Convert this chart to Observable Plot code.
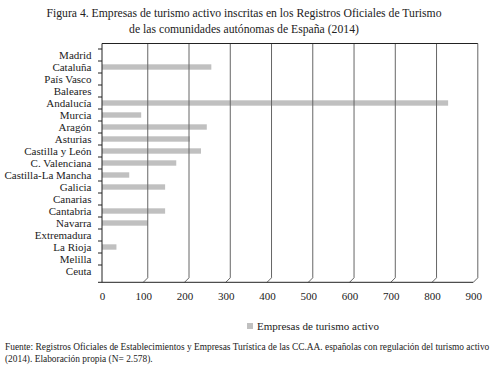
<!DOCTYPE html>
<html>
<head>
<meta charset="utf-8">
<script src="https://cdn.jsdelivr.net/npm/d3@7"></script>
<script src="https://cdn.jsdelivr.net/npm/@observablehq/plot@0.6"></script>
<style>
  html, body { margin: 0; padding: 0; background: #fff; }
  #wrap { position: relative; width: 504px; height: 370px; overflow: hidden; font-family: "Liberation Serif", Tinos, "DejaVu Serif", serif; color: #222; }
  #chart { position: absolute; left: 0; top: 0; }
  .t { position: absolute; white-space: nowrap; }
  #title { left: 0; width: 488px; top: 6px; text-align: center; font-size: 11.7px; line-height: 16px; }
  #legend { left: 247px; top: 320px; font-size: 11px; line-height: 12px; }
  #legend span.sw { display: inline-block; width: 6px; height: 6px; background: #c0c0c0; margin-right: 4px; vertical-align: 1px; }
  #foot { left: 5px; top: 341px; font-size: 9.4px; line-height: 12px; }
  svg text { font-family: "Liberation Serif", Tinos, "DejaVu Serif", serif; }
</style>
</head>
<body>
<div id="wrap">
  <div id="chart"></div>
  <div class="t" id="title">Figura 4. Empresas de turismo activo inscritas en los Registros Oficiales de Turismo<br>de las comunidades autónomas de España (2014)</div>
  <div class="t" id="legend"><span class="sw"></span>Empresas de turismo activo</div>
  <div class="t" id="foot">Fuente: Registros Oficiales de Establecimientos y Empresas Turística de las CC.AA. españolas con regulación del turismo activo<br>(2014). Elaboración propia (N= 2.578).</div>
</div>
<script>
const regions = ["Madrid", "Cataluña", "País Vasco", "Baleares", "Andalucía", "Murcia", "Aragón", "Asturias", "Castilla y León", "C. Valenciana", "Castilla-La Mancha", "Galicia", "Canarias", "Cantabria", "Navarra", "Extremadura", "La Rioja", "Melilla", "Ceuta"];
const empresas = [0, 265, 0, 0, 839, 95, 254, 213, 240, 180, 66, 153, 0, 153, 111, 0, 35, 0, 0];
const xTicks = [0, 100, 200, 300, 400, 500, 600, 700, 800, 900];

const data = regions.map((r, i) => ({region: r, value: empresas[i]}));

// 3D-style back wall gridlines (offset and slanted at the floor), drawn through Plot's x scale
function wall(index, scales, values, dims) {
  const x = scales.x;
  const top = dims.marginTop;
  const bottom = dims.height - dims.marginBottom;
  const x0 = dims.marginLeft;
  const d = 4.5;
  const g = document.createElementNS("http://www.w3.org/2000/svg", "g");
  g.setAttribute("fill", "none");
  let p = "";
  for (const v of xTicks) {
    if (v === 0) continue;
    const px = x(v);
    p += `M${px + d},${top}V${bottom - d}L${px},${bottom}`;
  }
  const grid = document.createElementNS("http://www.w3.org/2000/svg", "path");
  grid.setAttribute("d", p);
  grid.setAttribute("stroke", "#666");
  grid.setAttribute("stroke-width", "1");
  g.appendChild(grid);
  const ax = document.createElementNS("http://www.w3.org/2000/svg", "path");
  ax.setAttribute("d", `M${x0},${top}H${x(900) + d}M${x0},${top}V${bottom}H${x(900)}`);
  ax.setAttribute("stroke", "#222");
  ax.setAttribute("stroke-width", "1");
  g.appendChild(ax);
  const y = scales.y;
  let t = "";
  for (const r of regions) {
    const py = y(r);
    if (py - top > 1) t += `M${x0 - 4},${py}H${x0}`;
  }
  t += `M${x0 - 4},${bottom}H${x0}`;
  const tk = document.createElementNS("http://www.w3.org/2000/svg", "path");
  tk.setAttribute("d", t);
  tk.setAttribute("stroke", "#222");
  g.appendChild(tk);
  return g;
}

const chart = Plot.plot({
  width: 504,
  height: 310,
  marginTop: 43.5,
  marginLeft: 102,
  marginRight: 30.7,
  marginBottom: 27.7,
  style: {fontFamily: "Liberation Serif, Tinos, DejaVu Serif, serif", fontSize: "11px", color: "#222", background: "transparent"},
  x: {domain: [0, 900], ticks: xTicks, label: null, tickSize: 0, tickPadding: 9, tickFormat: d => String(d)},
  y: {domain: regions, padding: 0, label: null, tickSize: 0, tickPadding: 11},
  marks: [
    Plot.barX(data, {y: "region", x: "value", fill: "#c0c0c0", insetTop: 3.3, insetBottom: 3.3}),
    wall,
    Plot.axisX({ticks: xTicks, tickSize: 0, tickPadding: 9, fontSize: 11, tickFormat: d => String(d)}),
    Plot.axisY({tickSize: 0, tickPadding: 11, fontSize: 11})
  ]
});
document.getElementById("chart").appendChild(chart);
</script>
</body>
</html>
